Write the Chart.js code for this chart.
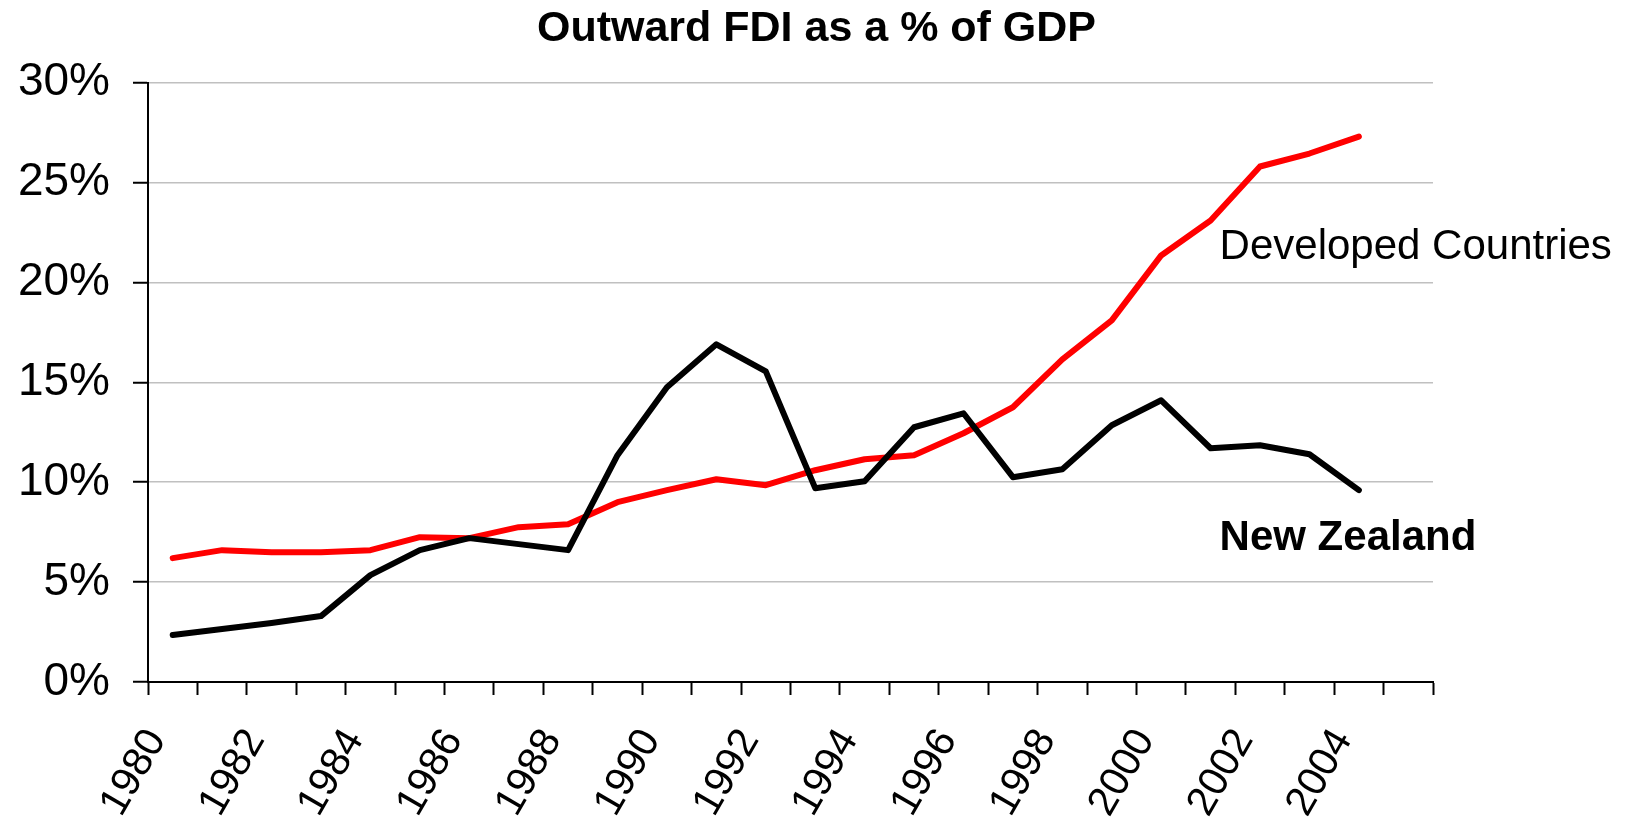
<!DOCTYPE html>
<html>
<head>
<meta charset="utf-8">
<title>Outward FDI as a % of GDP</title>
<script src="https://cdn.jsdelivr.net/npm/chart.js@4"></script>
<style>
  html, body { margin: 0; padding: 0; background: #fff; }
  #wrap { width: 1633px; height: 821px; }
</style>
</head>
<body>
<div id="wrap"><canvas id="fdiChart"></canvas></div>
<script>
// Data (percent of GDP)
const years = ["1980", "1981", "1982", "1983", "1984", "1985", "1986", "1987", "1988", "1989",
  "1990", "1991", "1992", "1993", "1994", "1995", "1996", "1997", "1998", "1999",
  "2000", "2001", "2002", "2003", "2004", "2005"];

const newZealand = [2.35, 2.65, 2.95, 3.3, 5.35, 6.6, 7.2, 6.9, 6.6, 11.35,
  14.75, 16.9, 15.55, 9.7, 10.05, 12.75, 13.45, 10.25, 10.65, 12.85,
  14.1, 11.7, 11.85, 11.4, 9.6];

const developed = [6.2, 6.6, 6.5, 6.5, 6.6, 7.25, 7.2, 7.75, 7.9, 9.0,
  9.6, 10.15, 9.85, 10.6, 11.15, 11.35, 12.45, 13.75, 16.15, 18.1,
  21.35, 23.1, 25.8, 26.45, 27.3];

const yTicks = [0, 5, 10, 15, 20, 25, 30];

// Text labels placed next to the lines
const noteText = ["Developed Countries", "New Zealand"];
const noteYear = ["2001", "2001"];
const noteValue = [21.15, 6.6];
const noteBold = [false, true];

const FONT = "'Liberation Sans', Arial, Helvetica, sans-serif";

const notesPlugin = {
  id: "notes",
  afterDatasetsDraw(chart) {
    const ctx = chart.ctx;
    const xs = chart.scales.x;
    const ys = chart.scales.y;
    ctx.save();
    ctx.fillStyle = "#000";
    ctx.textAlign = "left";
    ctx.textBaseline = "alphabetic";
    noteText.forEach((t, i) => {
      ctx.font = (noteBold[i] ? "bold " : "") + "42px " + FONT;
      const x = xs.getPixelForValue(years.indexOf(noteYear[i])) + 9;
      ctx.fillText(t, x, ys.getPixelForValue(noteValue[i]));
    });
    ctx.restore();
  }
};

new Chart(document.getElementById("fdiChart"), {
  type: "line",
  data: {
    labels: years,
    datasets: [
      {
        label: "New Zealand",
        data: newZealand,
        borderColor: "#000000",
        backgroundColor: "#000000",
        borderWidth: 6,
        pointRadius: 0,
        tension: 0,
        borderCapStyle: "round",
        borderJoinStyle: "round"
      },
      {
        label: "Developed Countries",
        data: developed,
        borderColor: "#ff0000",
        backgroundColor: "#ff0000",
        borderWidth: 6,
        pointRadius: 0,
        tension: 0,
        borderCapStyle: "round",
        borderJoinStyle: "round"
      }
    ]
  },
  options: {
    responsive: true,
    maintainAspectRatio: false,
    animation: false,
    layout: { padding: 0 },
    plugins: {
      legend: { display: false },
      tooltip: { enabled: false },
      title: {
        display: true,
        text: "Outward FDI as a % of GDP",
        color: "#000",
        font: { family: FONT, size: 43, weight: "bold" },
        padding: { top: 3, bottom: 28 }
      }
    },
    scales: {
      x: {
        offset: true,
        grid: {
          offset: true,
          drawOnChartArea: false,
          drawTicks: true,
          tickLength: 13,
          tickColor: "#000",
          tickWidth: 2
        },
        border: { color: "#000", width: 2 },
        ticks: {
          autoSkip: false,
          minRotation: 60,
          maxRotation: 60,
          padding: 26,
          labelOffset: -16,
          color: "#000",
          font: { family: FONT, size: 41 },
          callback: (val, i) => (i % 2 === 0 ? years[i] : "")
        },
        afterFit: (scale) => { scale.height = 139; }
      },
      y: {
        min: 0,
        max: 30,
        afterBuildTicks: (scale) => { scale.ticks = yTicks.map(v => ({ value: v })); },
        grid: {
          color: "#c0c0c0",
          lineWidth: 1.5,
          tickLength: 15,
          tickColor: "#000",
          tickWidth: 2
        },
        border: { color: "#000", width: 2 },
        ticks: {
          padding: 23,
          color: "#000",
          font: { family: FONT, size: 46 },
          callback: (v) => v + "%"
        },
        afterFit: (scale) => { scale.width = 148; }
      },
      // empty right-hand axis that only reserves room for the line labels
      yRight: {
        position: "right",
        min: 0,
        max: 30,
        grid: { display: false, drawOnChartArea: false },
        border: { display: false },
        ticks: { display: false },
        afterFit: (scale) => { scale.width = 200; }
      }
    }
  },
  plugins: [notesPlugin]
});
</script>
</body>
</html>
